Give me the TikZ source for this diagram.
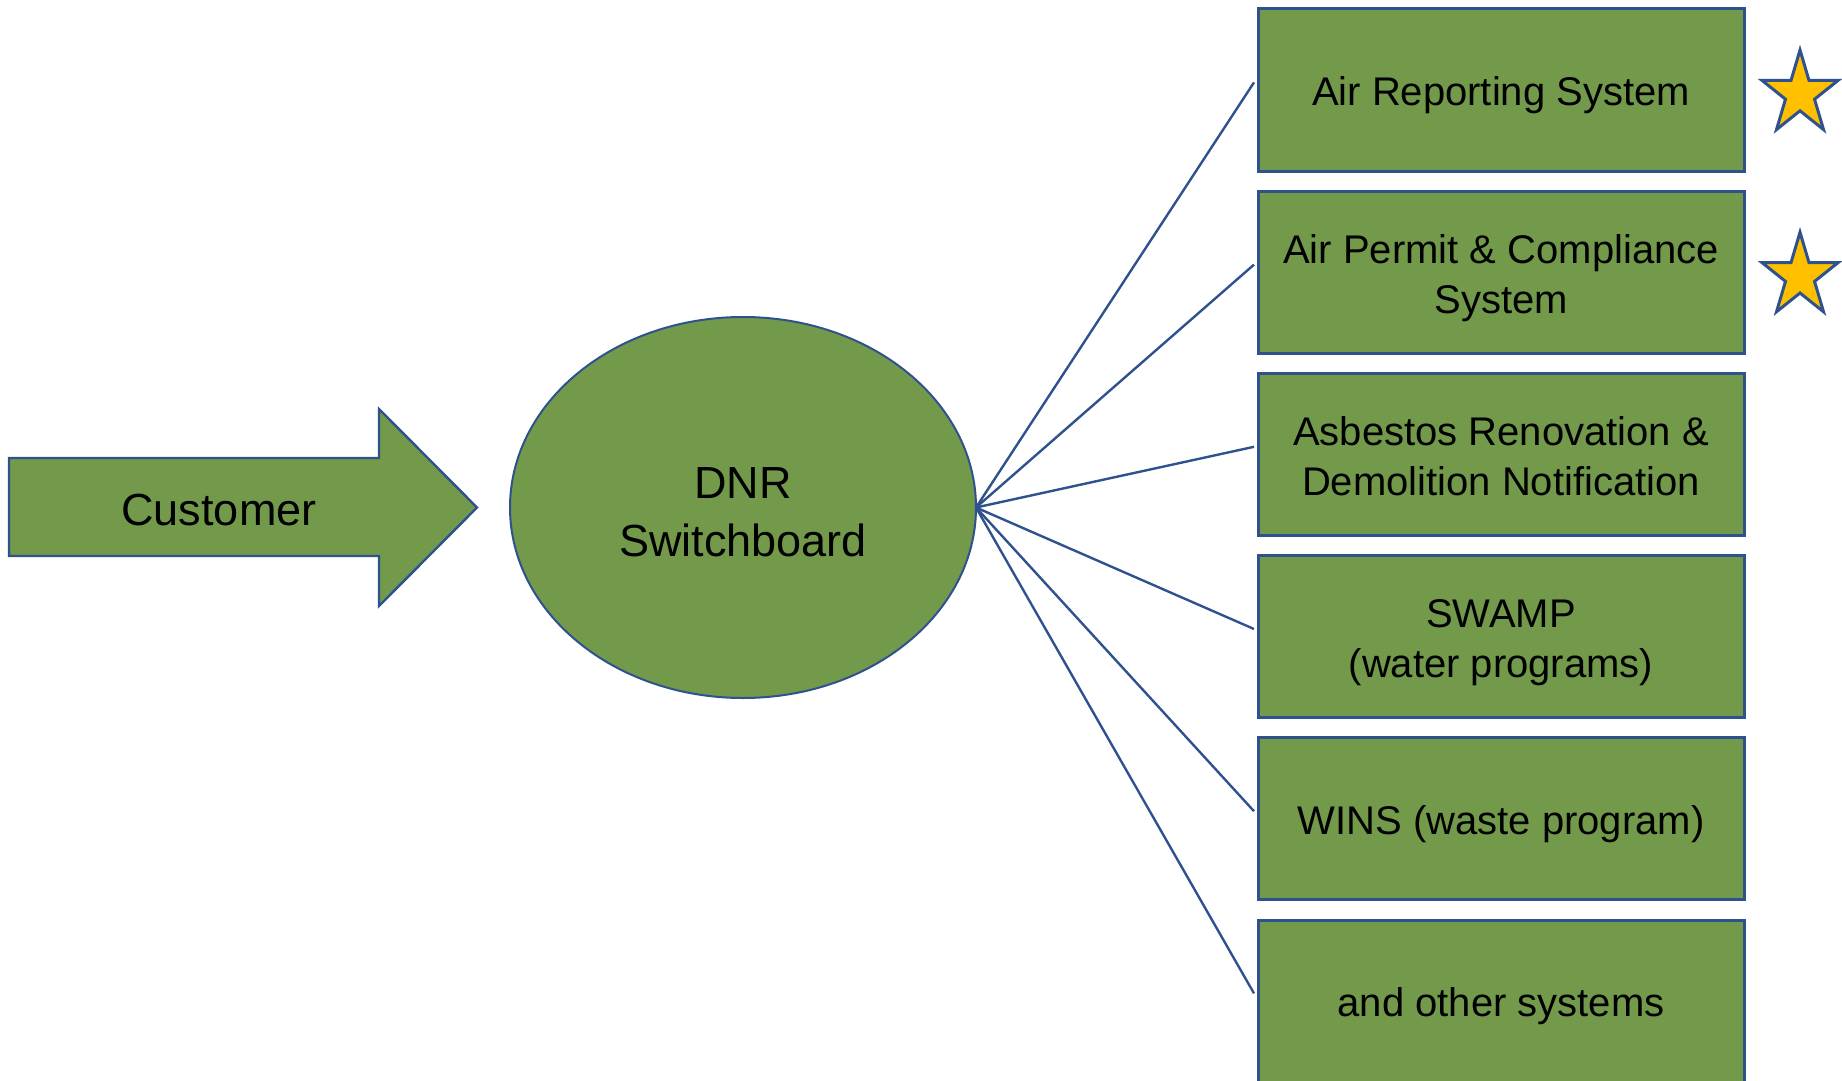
\documentclass[tikz,border=0pt]{standalone}
\usepackage{fontspec}
\setmainfont{Liberation Sans}
\usetikzlibrary{positioning, shapes.geometric}
\definecolor{boxgreen}{RGB}{114,154,74}
\definecolor{lineblue}{RGB}{47,82,143}
\definecolor{stargold}{RGB}{255,192,0}
\tikzstyle{block} = [draw=lineblue, fill=boxgreen, line width=1pt, outer sep=0pt]
\tikzstyle{system} = [block, rectangle, line width=1.5pt, minimum width=243pt, minimum height=81pt, inner sep=2pt, text height=19.5pt, text depth=3.7pt, align=center, font=\fontsize{20}{25}\selectfont]
\tikzstyle{twoline} = [system, text height=44.5pt]
\tikzstyle{switchboard} = [block, ellipse, minimum width=233pt, minimum height=190.5pt, inner sep=0pt, text height=50pt, text depth=1pt, align=center, font=\fontsize{22.5}{29}\selectfont]
\tikzstyle{pointer} = [block, line width=1.2pt, line join=miter]
\tikzstyle{award} = [star, star points=5, star point ratio=2.618, minimum size=40pt, inner sep=0pt, draw=lineblue, fill=stargold, line width=1.5pt, yscale=1.1]
\tikzstyle{link} = [draw=lineblue, line width=1.2pt]

\begin{document}
\begin{tikzpicture}[x=0.5pt, y=-0.5pt, node distance=10.1pt]
    \useasboundingbox (0,0) rectangle (1842,1081);

    % Customer arrow.
    \draw [pointer] (9,458) -- (379,458) -- (379,409) -- (477,507.5) -- (379,606) -- (379,556) -- (9,556) -- cycle;
    \node (customer) [font=\fontsize{22.5}{29}\selectfont] at (219,510) {Customer};

    % Switchboard.
    \node (hub) [switchboard] at (743,507.5) {DNR\\Switchboard};

    % Systems.
    \node (system1) [system] at (1501,90) {Air Reporting System};
    \node (system2) [twoline, below=of system1] {Air Permit \& Compliance\\System};
    \node (system3) [twoline, below=of system2] {Asbestos Renovation \&\\Demolition Notification};
    \node (system4) [twoline, below=of system3] {SWAMP\\(water programs)};
    \node (system5) [system, below=of system4] {WINS (waste program)};
    \node (system6) [system, below=of system5] {and other systems};

    % Stars.
    \foreach\i in {1,2} {
        \node (star\i) [award] at ([xshift=28pt, yshift=-2pt]system\i.east) {};
    }

    % Links.
    \foreach\i in {1, ..., 6} {
        \draw [link] (hub.east) -- ([xshift=-2pt, yshift=3.8pt]system\i.west);
    }
\end{tikzpicture}
\end{document}
